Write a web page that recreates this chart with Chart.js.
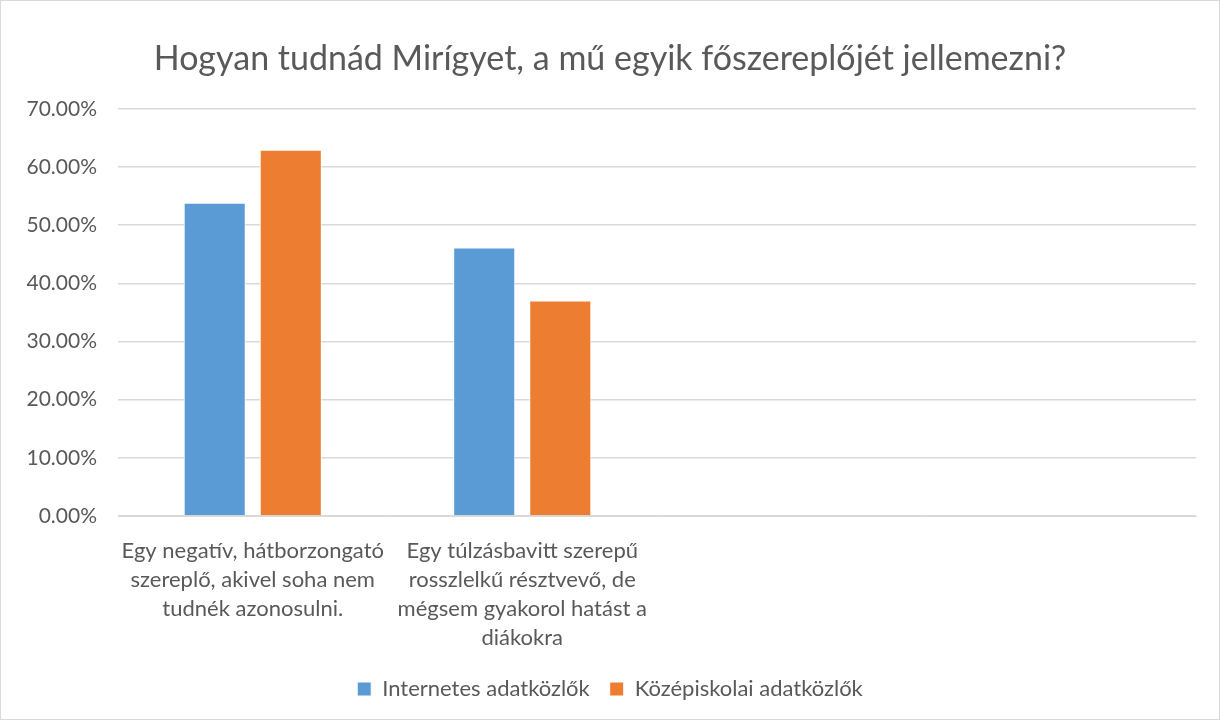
<!DOCTYPE html>
<html>
<head>
<meta charset="utf-8">
<script src="https://cdn.jsdelivr.net/npm/chart.js@4"></script>
<style>
  body { margin: 0; background: #fff; }
  #wrap { width: 1220px; height: 720px; box-sizing: border-box; border: 1px solid #d9d9d9; }
</style>
</head>
<body>
<div id="wrap"><canvas id="chart"></canvas></div>
<script>
// answers, two groups of respondents
const categories = [
  ['Egy negatív, hátborzongató', 'szereplő, akivel soha nem', 'tudnék azonosulni.'],
  ['Egy túlzásbavitt szerepű', 'rosszlelkű résztvevő, de', 'mégsem gyakorol hatást a', 'diákokra'],
  '',
  ''
]
const internetes = [0.5385, 0.4615, null, null]
const kozepiskolai = [0.6296, 0.3704, null, null]
const seriesNames = ['Internetes adatközlők', 'Középiskolai adatközlők']
const yTicks = [0, 0.1, 0.2, 0.3, 0.4, 0.5, 0.6, 0.7]

const GREY = '#595959'
const FONT = 'Lato, "Open Sans", sans-serif'

const ctx = document.getElementById('chart')
new Chart(ctx, {
  type: 'bar',
  data: {
    labels: categories,
    datasets: [
      {
        label: seriesNames[0],
        data: internetes,
        backgroundColor: '#5b9bd5',
        borderColor: '#ffffff',
        borderWidth: 1
      },
      {
        label: seriesNames[1],
        data: kozepiskolai,
        backgroundColor: '#ed7d31',
        borderColor: '#ffffff',
        borderWidth: 1
      }
    ]
  },
  options: {
    responsive: true,
    maintainAspectRatio: false,
    animation: false,
    // symmetric padding so title + legend stay centred on the canvas
    layout: { padding: { top: 0, right: 23, bottom: 9, left: 23 } },
    datasets: { bar: { categoryPercentage: 0.5645, barPercentage: 0.816 } },
    plugins: {
      title: {
        display: true,
        text: 'Hogyan tudnád Mirígyet, a mű egyik főszereplőjét jellemezni?',
        color: GREY,
        font: { family: FONT, size: 34, weight: 'normal' },
        padding: { top: 38, bottom: 29 }
      },
      legend: {
        position: 'bottom',
        labels: {
          color: GREY,
          font: { family: FONT, size: 22 },
          boxWidth: 14,
          boxHeight: 14,
          padding: 20
        }
      },
      tooltip: { enabled: false }
    },
    scales: {
      x: {
        grid: { display: false, drawTicks: false },
        border: { color: '#d9d9d9' },
        ticks: {
          color: GREY,
          font: { family: FONT, size: 22, lineHeight: 1.32 },
          maxRotation: 0,
          autoSkip: false,
          padding: 20
        },
        afterFit: (scale) => { scale.height = 142 }
      },
      y: {
        min: 0,
        max: 0.7,
        afterBuildTicks: (scale) => {
          scale.ticks = yTicks.map((v) => ({ value: v }))
        },
        grid: { color: '#d9d9d9', lineWidth: 1.5, drawTicks: false },
        border: { display: false },
        ticks: {
          color: GREY,
          font: { family: FONT, size: 21 },
          padding: 21,
          callback: (v) => (v * 100).toFixed(2) + '%'
        },
        afterFit: (scale) => { scale.width = 94 }
      }
    }
  }
})
</script>
</body>
</html>
